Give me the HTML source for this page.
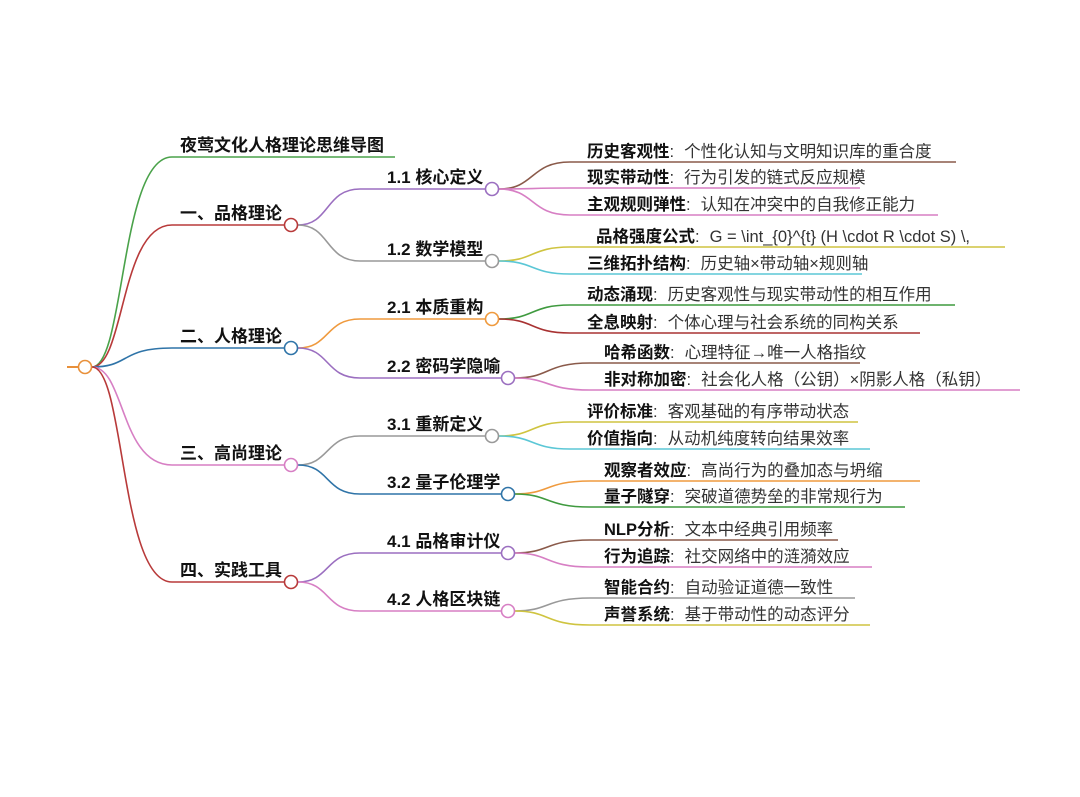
<!DOCTYPE html>
<html><head><meta charset="utf-8"><style>
html,body{margin:0;padding:0;background:#fff;}
svg{display:block;}
text{font-family:"Liberation Sans","Noto Sans CJK SC",sans-serif;fill:#111;}
.l1{font-size:17px;font-weight:bold;}
.k{font-size:16.5px;font-weight:bold;}
.v{font-size:16.5px;font-weight:normal;fill:#333;}
</style></head><body>
<svg width="1080" height="797" viewBox="0 0 1080 797" xmlns="http://www.w3.org/2000/svg">
<g fill="none" stroke-width="1.6">
<line x1="67" y1="367" x2="78" y2="367" stroke="#e8903a" stroke-width="2"/>
<path d="M92 367 C125 367 120 157 172 157 L395 157" stroke="#4aa24a"/>
<path d="M92 367 C125 367 120 225 172 225 L285 225" stroke="#b83a3a"/>
<path d="M92 367 C130 367 120 348 172 348 L285 348" stroke="#2f74a8"/>
<path d="M92 367 C125 367 120 465 172 465 L285 465" stroke="#d77fc4"/>
<path d="M92 367 C125 367 120 582 172 582 L285 582" stroke="#b83a3a"/>
<path d="M298 225 C330 225 325 189 360 189 L486 189" stroke="#9b6fc0"/>
<path d="M298 225 C330 225 325 261 360 261 L486 261" stroke="#999"/>
<path d="M298 348 C330 348 325 319 360 319 L486 319" stroke="#ef9a3e"/>
<path d="M298 348 C330 348 325 378 360 378 L502 378" stroke="#9b6fc0"/>
<path d="M298 465 C330 465 325 436 360 436 L486 436" stroke="#999"/>
<path d="M298 465 C330 465 325 494 360 494 L502 494" stroke="#2f74a8"/>
<path d="M298 582 C330 582 325 553 360 553 L502 553" stroke="#9b6fc0"/>
<path d="M298 582 C330 582 325 611 360 611 L502 611" stroke="#d77fc4"/>
<path d="M499 189 C535 189 530 162 570 162 L956 162" stroke="#8a5a4a"/>
<path d="M499 189 C535 189 530 188 570 188 L860 188" stroke="#d77fc4"/>
<path d="M499 189 C535 189 530 215 570 215 L938 215" stroke="#d77fc4"/>
<path d="M499 261 C535 261 530 247 570 247 L1005 247" stroke="#cfc440"/>
<path d="M499 261 C535 261 530 274 570 274 L862 274" stroke="#5bc7d6"/>
<path d="M499 319 C535 319 530 305 570 305 L955 305" stroke="#3f9a3f"/>
<path d="M499 319 C535 319 530 333 570 333 L920 333" stroke="#a83232"/>
<path d="M515 378 C550 378 545 363 590 363 L860 363" stroke="#8a5a4a"/>
<path d="M515 378 C550 378 545 390 590 390 L1020 390" stroke="#d77fc4"/>
<path d="M499 436 C535 436 530 422 570 422 L858 422" stroke="#cfc440"/>
<path d="M499 436 C535 436 530 449 570 449 L870 449" stroke="#5bc7d6"/>
<path d="M515 494 C550 494 545 481 590 481 L920 481" stroke="#ef9a3e"/>
<path d="M515 494 C550 494 545 507 590 507 L905 507" stroke="#3f9a3f"/>
<path d="M515 553 C550 553 545 540 590 540 L838 540" stroke="#8a5a4a"/>
<path d="M515 553 C550 553 545 567 590 567 L872 567" stroke="#d77fc4"/>
<path d="M515 611 C550 611 545 598 590 598 L855 598" stroke="#999"/>
<path d="M515 611 C550 611 545 625 590 625 L870 625" stroke="#cfc440"/>
</g>
<g fill="#fff" stroke-width="1.6">
<circle cx="85" cy="367" r="6.5" stroke="#e8903a"/>
<circle cx="291" cy="225" r="6.5" stroke="#b83a3a"/>
<circle cx="291" cy="348" r="6.5" stroke="#2f74a8"/>
<circle cx="291" cy="465" r="6.5" stroke="#d77fc4"/>
<circle cx="291" cy="582" r="6.5" stroke="#b83a3a"/>
<circle cx="492" cy="189" r="6.5" stroke="#9b6fc0"/>
<circle cx="492" cy="261" r="6.5" stroke="#999"/>
<circle cx="492" cy="319" r="6.5" stroke="#ef9a3e"/>
<circle cx="508" cy="378" r="6.5" stroke="#9b6fc0"/>
<circle cx="492" cy="436" r="6.5" stroke="#999"/>
<circle cx="508" cy="494" r="6.5" stroke="#2f74a8"/>
<circle cx="508" cy="553" r="6.5" stroke="#9b6fc0"/>
<circle cx="508" cy="611" r="6.5" stroke="#d77fc4"/>
</g>
<text class="l1" x="180" y="151">夜莺文化人格理论思维导图</text>
<text class="l1" x="180" y="219">一、品格理论</text>
<text class="l1" x="180" y="342">二、人格理论</text>
<text class="l1" x="180" y="459">三、高尚理论</text>
<text class="l1" x="180" y="576">四、实践工具</text>
<text class="l1" x="387" y="183">1.1 核心定义</text>
<text class="l1" x="387" y="255">1.2 数学模型</text>
<text class="l1" x="387" y="313">2.1 本质重构</text>
<text class="l1" x="387" y="372">2.2 密码学隐喻</text>
<text class="l1" x="387" y="430">3.1 重新定义</text>
<text class="l1" x="387" y="488">3.2 量子伦理学</text>
<text class="l1" x="387" y="547">4.1 品格审计仪</text>
<text class="l1" x="387" y="605">4.2 人格区块链</text>
<text x="587" y="157"><tspan class="k">历史客观性</tspan><tspan class="v">:</tspan><tspan class="v" dx="10">个性化认知与文明知识库的重合度</tspan></text>
<text x="587" y="183"><tspan class="k">现实带动性</tspan><tspan class="v">:</tspan><tspan class="v" dx="10">行为引发的链式反应规模</tspan></text>
<text x="587" y="210"><tspan class="k">主观规则弹性</tspan><tspan class="v">:</tspan><tspan class="v" dx="10">认知在冲突中的自我修正能力</tspan></text>
<text x="596" y="242"><tspan class="k">品格强度公式</tspan><tspan class="v">:</tspan><tspan class="v" dx="10">G = \int_{0}^{t} (H \cdot R \cdot S) \,</tspan></text>
<text x="587" y="269"><tspan class="k">三维拓扑结构</tspan><tspan class="v">:</tspan><tspan class="v" dx="10">历史轴×带动轴×规则轴</tspan></text>
<text x="587" y="300"><tspan class="k">动态涌现</tspan><tspan class="v">:</tspan><tspan class="v" dx="10">历史客观性与现实带动性的相互作用</tspan></text>
<text x="587" y="328"><tspan class="k">全息映射</tspan><tspan class="v">:</tspan><tspan class="v" dx="10">个体心理与社会系统的同构关系</tspan></text>
<text x="604" y="358"><tspan class="k">哈希函数</tspan><tspan class="v">:</tspan><tspan class="v" dx="10">心理特征→唯一人格指纹</tspan></text>
<text x="604" y="385"><tspan class="k">非对称加密</tspan><tspan class="v">:</tspan><tspan class="v" dx="10">社会化人格（公钥）×阴影人格（私钥）</tspan></text>
<text x="587" y="417"><tspan class="k">评价标准</tspan><tspan class="v">:</tspan><tspan class="v" dx="10">客观基础的有序带动状态</tspan></text>
<text x="587" y="444"><tspan class="k">价值指向</tspan><tspan class="v">:</tspan><tspan class="v" dx="10">从动机纯度转向结果效率</tspan></text>
<text x="604" y="476"><tspan class="k">观察者效应</tspan><tspan class="v">:</tspan><tspan class="v" dx="10">高尚行为的叠加态与坍缩</tspan></text>
<text x="604" y="502"><tspan class="k">量子隧穿</tspan><tspan class="v">:</tspan><tspan class="v" dx="10">突破道德势垒的非常规行为</tspan></text>
<text x="604" y="535"><tspan class="k">NLP分析</tspan><tspan class="v">:</tspan><tspan class="v" dx="10">文本中经典引用频率</tspan></text>
<text x="604" y="562"><tspan class="k">行为追踪</tspan><tspan class="v">:</tspan><tspan class="v" dx="10">社交网络中的涟漪效应</tspan></text>
<text x="604" y="593"><tspan class="k">智能合约</tspan><tspan class="v">:</tspan><tspan class="v" dx="10">自动验证道德一致性</tspan></text>
<text x="604" y="620"><tspan class="k">声誉系统</tspan><tspan class="v">:</tspan><tspan class="v" dx="10">基于带动性的动态评分</tspan></text>
</svg>
</body></html>
